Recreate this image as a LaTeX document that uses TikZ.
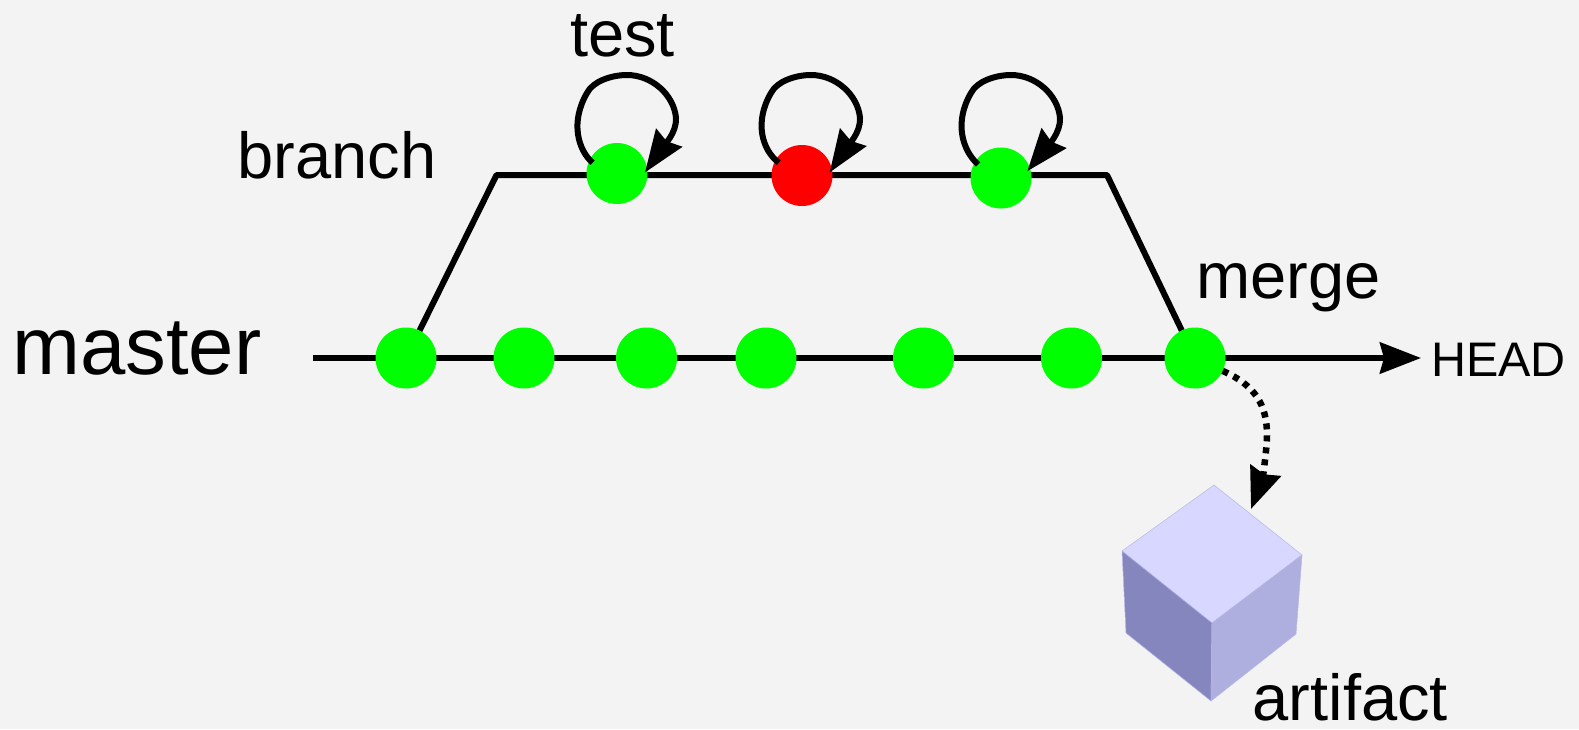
\documentclass[tikz,border=0pt]{standalone}
\usepackage{fontspec}
\setmainfont{Liberation Sans}
\usetikzlibrary{arrows.meta,backgrounds}
\definecolor{pagegray}{HTML}{F3F3F3}
\definecolor{cubetop}{HTML}{D7D7FF}
\definecolor{cubeleft}{HTML}{8686BF}
\definecolor{cuberight}{HTML}{AFAFDF}
\tikzset{
  commit/.style={circle,fill=#1,minimum size=61pt,inner sep=0pt,outer sep=0pt},
  commit/.default={green},
  label/.style={anchor=base west,inner sep=0pt,font=\fontsize{65}{70}\selectfont},
  track/.style={line width=6pt,line join=round},
  selfloop/.style={line width=6pt,shorten <=-4pt,shorten >=-4pt,-{Stealth[length=42pt,width=31pt,inset=4pt]}},
  cubeface/.style={draw=cubeleft!40!cubetop,line width=0.5pt,line join=round}
}

\begin{document}
\begin{tikzpicture}[x=1pt,y=-1pt]
      \useasboundingbox (0,0) rectangle (1579,729);

      \node [commit] (m1) at (406,358) {};
      \node [commit] (m2) at (524,358) {};
      \node [commit] (m3) at (646.5,358) {};
      \node [commit] (m4) at (766,358) {};
      \node [commit] (m5) at (923.5,358) {};
      \node [commit] (m6) at (1071.5,358) {};
      \node [commit] (m7) at (1195,358) {};

      \node [commit] (b1) at (617,173.5) {};
      \node [commit=red] (b2) at (802,175.5) {};
      \node [commit] (b3) at (1001,178) {};

      \node [label,font=\fontsize{81.5}{90}\selectfont] (master) at (12,374) {master};
      \node [label] (branch) at (237.5,178.5) {branch};
      \node [label] (test) at (570,56) {test};
      \node [label] (merge) at (1196,298) {merge};
      \node [label] (artifact) at (1252.5,720) {artifact};
      \node [label,inner xsep=10pt,font=\fontsize{48.5}{54}\selectfont] (head) at (1421,376.7) {HEAD};

      \coordinate (start) at (313,358);
      \coordinate (left) at (496.5,175);
      \coordinate (right) at (1107,175);
      \coordinate (drop) at (1251,509);

      \begin{scope}[on background layer]
        \fill [pagegray] (0,0) rectangle (1579,729);
        \draw [track] (m1) -- (left) -- (right) -- (m7);
        \draw [track,-{Stealth[length=41pt,width=31pt,inset=4pt]}] (start) -- (head.west |- start);
      \end{scope}

      % self loops above the branch commits
      \foreach \n/\dx/\s/\e in {b1/0/154/8,b2/184/150/12,b3/384/148/19}
        \draw [selfloop,xshift=\dx pt] (\n.\s)
          .. controls (578,150) and (570,122) .. (587,93)
          .. controls (593,81) and (612,75) .. (627,75)
          .. controls (652,75) and (674,95) .. (676,118)
          .. controls (677,133) and (662,148) .. (\n.\e);

      \draw [line width=6.5pt,dash pattern=on 6pt off 6pt,-{Stealth[length=41pt,width=32pt,inset=4pt]}] (m7.-25)
        .. controls (1255,385) and (1267,405) .. (1267,435)
        .. controls (1267,450) and (1262,480) .. (drop);

      % cube
      \filldraw [cubeface,fill=cubetop] (1214,485) -- (1302,555) -- (1212,623) -- (1122,551) -- cycle;
      \filldraw [cubeface,fill=cubeleft] (1122,551) -- (1212,623) -- (1211,701) -- (1126,633) -- cycle;
      \filldraw [cubeface,fill=cuberight] (1302,555) -- (1212,623) -- (1211,701) -- (1296,634) -- cycle;
    \end{tikzpicture}
\end{document}
